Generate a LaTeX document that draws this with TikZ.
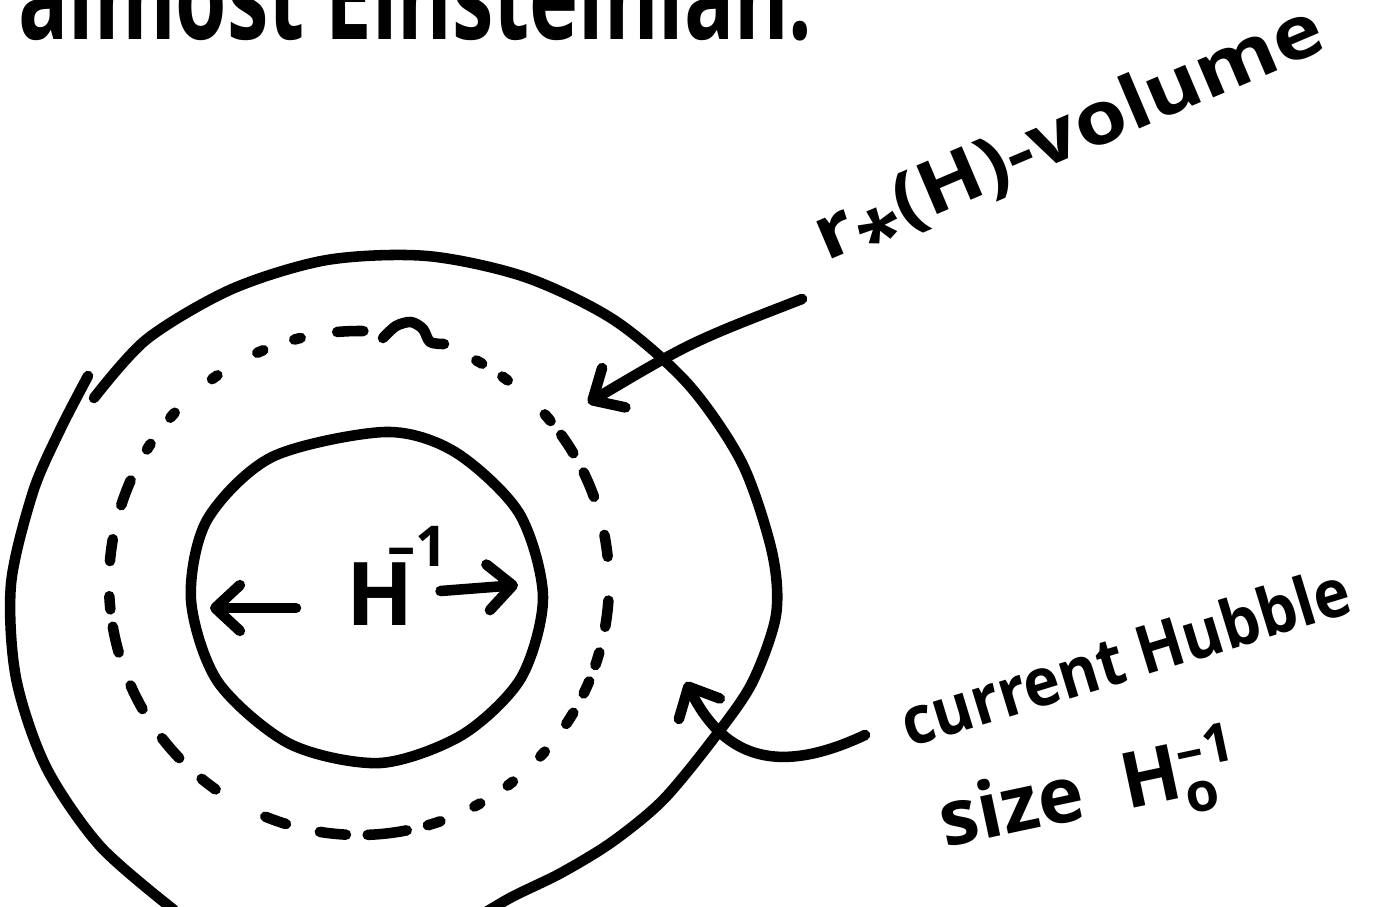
\documentclass[tikz,border=0pt]{standalone}
\usepackage{amsmath}
\usepackage{fontspec}
\setmainfont{Open Sans}
\usetikzlibrary{arrows.meta,calc}

\tikzset{
  pen/.style={line width=3pt,line cap=round,line join=round},
  hand/.style={font=\bfseries\fontsize{#1}{#1}\selectfont,inner sep=0pt},
}

\begin{document}
\begin{tikzpicture}[x=0.01cm,y=-0.01cm,>={Straight Barb[length=7pt,width=13pt,round]}]
\useasboundingbox (0,0) rectangle (1389,907);
\fill[white] (0,0) rectangle (1389,907);
\clip (0,0) rectangle (1389,907);

% heading, cut off by the page edge
\node[hand=34,anchor=base west,xscale=0.695] (head) at (18,40) {almost Einsteinian.};

% outer circle, drawn in two strokes
\draw[pen] plot[smooth] coordinates {(174,910) (100,846) (46,767) (16,678) (11,584) (33,492)
  (60,430) (88,376)};
\draw[pen] plot[smooth] coordinates {(94,398) (147,339) (232,289) (327,260) (427,256)
  (525,277) (614,320) (688,384) (742,463) (772,552) (776,615) (752,683) (714,738) (663,800)
  (612,842) (561,873) (510,898) (465,925)};

% dashed circle
\foreach \a/\b in {164/170,150/156,136/142,125/129,107/112,93/99,79/88,71/74,61/62.5,52/53.5,
  42/43.5,31/34,23/26,16/19,4/10,349/354,334/340,324/329,318/320,305/306.5,298/299.5,
  265/271,255/256.5,246/247.5,234/235.5,221/222.5,212/213.5,198/204,185/190,174/177}
  \draw[pen] plot[smooth,domain=\a:\b,samples=6] ({359+250*cos(\x)},{583+252*sin(\x)});
\draw[pen] plot[smooth] coordinates {(383,338) (396,326) (411,322) (423,329) (430,342) (444,344)};

% inner circle
\draw[pen] plot[smooth cycle] coordinates {(385,432) (455,452) (519,513) (543,597) (521,678)
  (462,735) (380,763) (290,744) (218,682) (191,600) (207,520) (272,457)};

% H^{-1} and its arrows
\node[hand=25,anchor=base west] (hinv) at (346,625)
  {H\kern-0.3em\raisebox{0.66em}{\fontsize{16}{16}\selectfont –1}};
\coordinate (hl) at (210,608);
\coordinate (hr) at (518,585);
\draw[pen,->,shorten <=0.5cm] (hinv.west |- hl) -- (hl);
\draw[pen,->] ($(hinv.east |- hr)+(-8,6)$) -- (hr);

% labels and pointers
\node[hand=21,anchor=base west,rotate=23,xscale=1.14] (rlab) at (826,262)
  {r\raisebox{-0.35em}{*}(H)-volume};
\coordinate (rtip) at (588,403);
\draw[pen,->] ($(rlab.base west)+(-24,37)$) .. controls (691,342) .. (rtip);

\node[hand=19,anchor=base west,rotate=17,xscale=0.92] (hub) at (909,748) {current Hubble};
\node[hand=22,anchor=base west,rotate=12] (size) at (945,848) {size\ \ H$_{\text{o}}^{\text{–1}}$};
\coordinate (ring) at (686,682);
\draw[pen,->] ($(hub.base west)+(-44,-13)$) .. controls (780,775) and (725,760) .. (ring);
\end{tikzpicture}
\end{document}
